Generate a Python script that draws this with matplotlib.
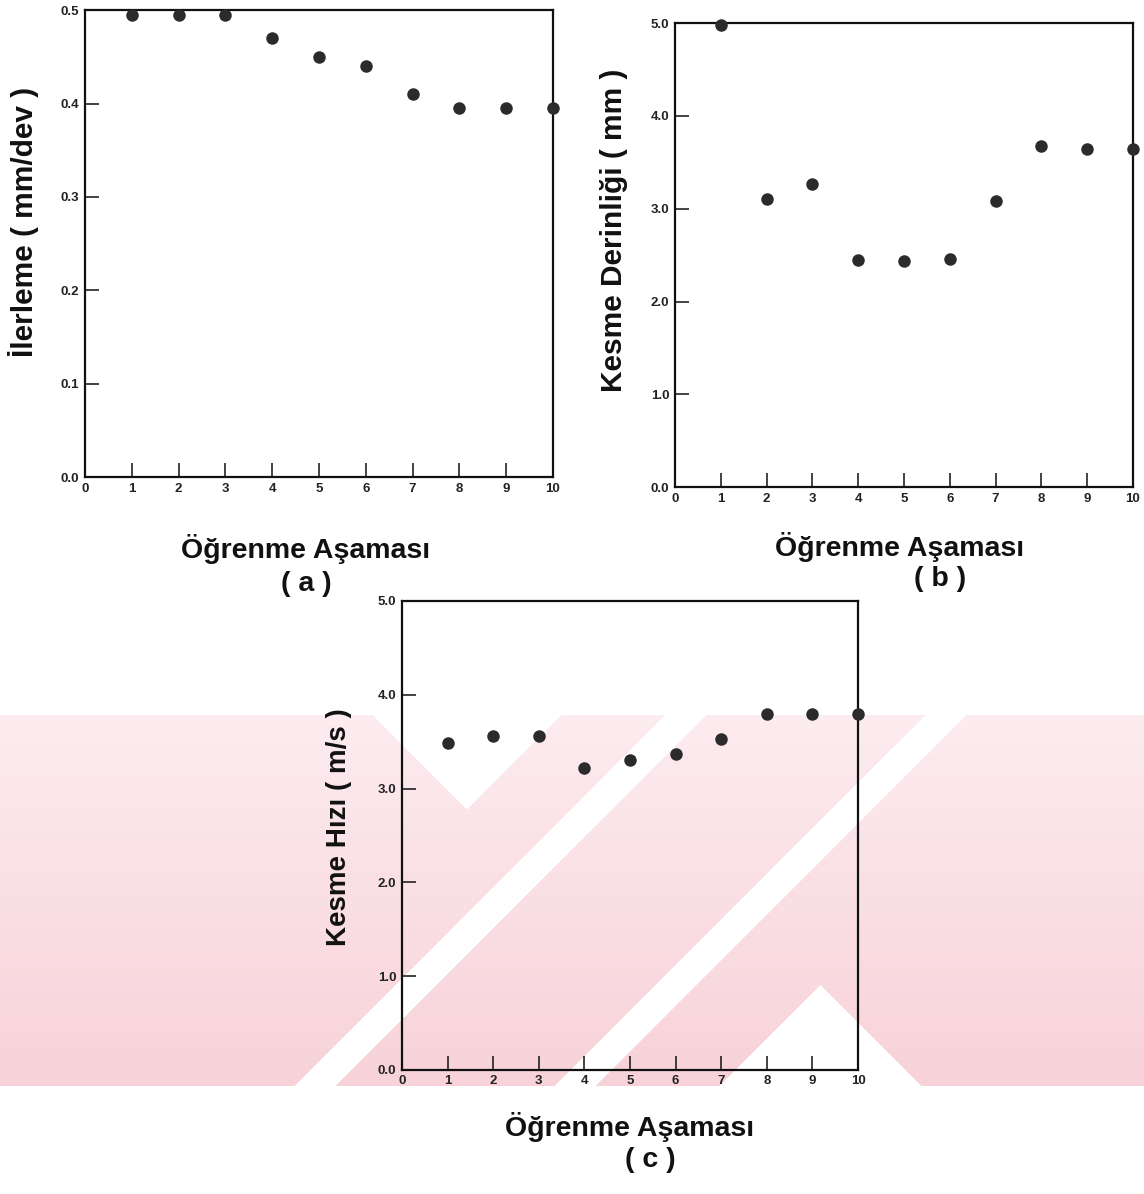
import numpy as np
import matplotlib
matplotlib.use("Agg")
import matplotlib.pyplot as plt

plt.rcParams["font.family"] = ["Liberation Sans", "DejaVu Sans"]

# --------------------------------------------------
# Data
# --------------------------------------------------
stages = [1, 2, 3, 4, 5, 6, 7, 8, 9, 10]

ilerleme = [0.495, 0.495, 0.495, 0.47, 0.45, 0.44, 0.41, 0.395, 0.395, 0.395]
derinlik = [4.98, 3.10, 3.27, 2.45, 2.44, 2.46, 3.08, 3.68, 3.64, 3.64]
hiz = [3.49, 3.56, 3.56, 3.22, 3.30, 3.37, 3.53, 3.79, 3.79, 3.79]

x_ticks = list(range(0, 11))
ticks_a = [0.0, 0.1, 0.2, 0.3, 0.4, 0.5]
labels_a = ["0.0", "0.1", "0.2", "0.3", "0.4", "0.5"]
ticks_bc = [0, 1, 2, 3, 4, 5]
labels_bc = ["0.0", "1.0", "2.0", "3.0", "4.0", "5.0"]

xlabel = "Öğrenme Aşaması"

W = 1144.0
H = 1194.0

# --------------------------------------------------
# Figure
# --------------------------------------------------
fig = plt.figure(figsize=(W / 100, H / 100), dpi=100)

# faint pink watermark band of the scanned page (behind everything)
bg = fig.add_axes([0, 0, 1, 1], zorder=-5)
yy, xx = np.mgrid[0:int(H), 0:int(W)]
band = (yy >= 715) & (yy <= 1085)
notch = (xx - 373 >= yy - 715) & (560 - xx >= yy - 715)
stripe1 = ((xx + yy) >= 1380) & ((xx + yy) <= 1420)
stripe2 = ((xx + yy) >= 1640) & ((xx + yy) <= 1680)
peak = (yy >= 985) & (np.abs(xx - 820) <= yy - 985)
pink = band & ~notch & ~stripe1 & ~stripe2 & ~peak
t = np.clip((yy - 715) / 370.0, 0, 1)
img = np.ones((int(H), int(W), 3))
img[..., 0] = np.where(pink, 1 - (0.01 + 0.02 * t), 1.0)
img[..., 1] = np.where(pink, 1 - (0.075 + 0.10 * t), 1.0)
img[..., 2] = np.where(pink, 1 - (0.06 + 0.09 * t), 1.0)
bg.imshow(img, extent=(0, W, H, 0), aspect="auto", interpolation="nearest")
bg.axis("off")


def style_axis(ax, yticks, ylabels, ymax):
    ax.set_facecolor("none")
    ax.set_xlim(0, 10)
    ax.set_ylim(0, ymax)
    ax.set_xticks(x_ticks)
    ax.set_yticks(yticks)
    ax.set_yticklabels(ylabels)
    ax.tick_params(direction="in", length=10, width=1.2, labelsize=9.5,
                   pad=4, colors="#222222")
    for sp in ax.spines.values():
        sp.set_linewidth(1.6)
        sp.set_color("#111111")
    for lab in ax.get_xticklabels() + ax.get_yticklabels():
        lab.set_fontweight("bold")


def draw_points(ax, values):
    ax.plot(stages, values, "o", color="#2b2b2b", markersize=9,
            markeredgewidth=0, clip_on=False, zorder=3)


# (a) feed
ax_a = fig.add_axes([0.0743, 0.6005, 0.409, 0.391])
draw_points(ax_a, ilerleme)
style_axis(ax_a, ticks_a, labels_a, 0.5)

# (b) depth of cut
ax_b = fig.add_axes([0.590, 0.592, 0.4003, 0.3886])
draw_points(ax_b, derinlik)
style_axis(ax_b, ticks_bc, labels_bc, 5)

# (c) cutting speed
ax_c = fig.add_axes([0.3514, 0.1039, 0.3986, 0.3928])
draw_points(ax_c, hiz)
style_axis(ax_c, ticks_bc, labels_bc, 5)


def ftext(x, y, s, **kw):
    fig.text(x / W, 1 - y / H, s, ha="center", va="center",
             fontweight="bold", color="#111111", **kw)


# y labels
ftext(24, 222, "İlerleme ( mm/dev )", fontsize=21.5, rotation=90)
ftext(614, 230, "Kesme Derinliği ( mm )", fontsize=21.5, rotation=90)
ftext(339, 827, "Kesme Hızı ( m/s )", fontsize=20, rotation=90)

# x labels and panel letters
ftext(306, 549, xlabel, fontsize=20.5)
ftext(306, 584, "( a )", fontsize=20.5)
ftext(900, 547, xlabel, fontsize=20.5)
ftext(940, 579, "( b )", fontsize=20.5)
ftext(630, 1127, xlabel, fontsize=20.5)
ftext(650, 1160, "( c )", fontsize=20.5)

fig.savefig("out.png", dpi=100, facecolor="white")
